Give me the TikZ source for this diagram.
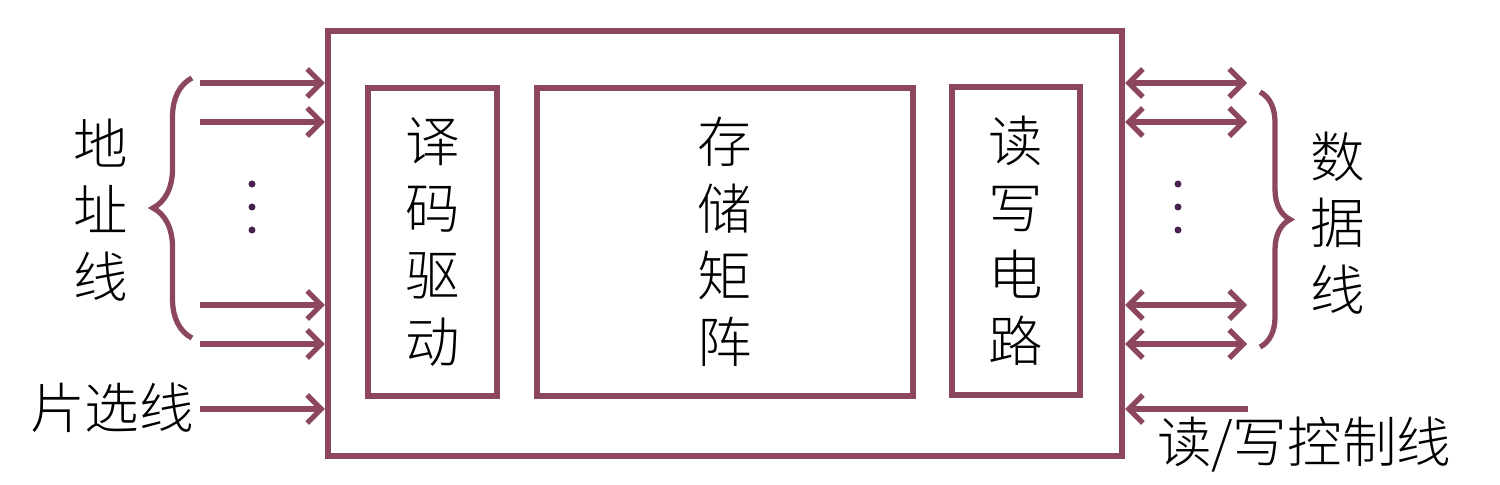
\documentclass[tikz,border=0pt]{standalone}
\usepackage{fontspec}
\setmainfont{Noto Sans CJK SC Light}
\usetikzlibrary{arrows.meta,decorations.pathreplacing}
\definecolor{wire}{RGB}{140,70,96}
\definecolor{dotc}{RGB}{72,34,78}
\begin{document}
\begin{tikzpicture}[x=0.01cm, y=-0.01cm, line width=1.5pt,
				tip/.tip={Straight Barb[length=4pt,width=8pt]},
				sig/.style={draw=wire, -tip},
				bus/.style={draw=wire, tip-tip},
				blk/.style={draw=wire, line width=1.6pt, inner sep=0pt, align=center},
				lbl/.style={font=\fontsize{15.5}{19}\selectfont, align=center, inner sep=0pt},
				dot/.style={circle, fill=dotc, inner sep=0pt, minimum size=0.07cm},
				brc/.style={draw=wire, decorate, decoration={brace, amplitude=#1}}]
				
				\useasboundingbox (0,0) rectangle (1500,485);
				
				% --- 1. 芯片外框与内部模块 ---
				\node[blk, minimum width=7.94cm, minimum height=4.25cm] (chip) at (725,243.5) {};
				\node[blk, lbl, minimum width=1.29cm, minimum height=3.08cm] (dec) at (432.5,242) {译\\码\\驱\\动};
				\node[blk, lbl, minimum width=3.76cm, minimum height=3.08cm] (mat) at (725,242) {存\\储\\矩\\阵};
				\node[blk, lbl, minimum width=1.28cm, minimum height=3.08cm] (rw) at (1016,241) {读\\写\\电\\路};
				
				% --- 2. 外部引线的端点 ---
				\coordinate (A1) at (200,83);
				\coordinate (A2) at (200,122);
				\coordinate (A3) at (200,305);
				\coordinate (A4) at (200,344);
				\coordinate (CS) at (200,409);
				\coordinate (D1) at (1247,83);
				\coordinate (D2) at (1247,122);
				\coordinate (D3) at (1247,305);
				\coordinate (D4) at (1247,344);
				\coordinate (WE) at (1248,409);
				
				% --- 3. 地址线、片选线 (输入) ---
				\draw[sig] (A1) -- (A1 -| chip.west);
				\draw[sig] (A2) -- (A2 -| chip.west);
				\draw[sig] (A3) -- (A3 -| chip.west);
				\draw[sig] (A4) -- (A4 -| chip.west);
				\draw[sig] (CS) -- (CS -| chip.west);
				\node[dot] (al1) at (252,184) {};
				\node[dot] (al2) at (252,207) {};
				\node[dot] (al3) at (252,230) {};
				\draw[brc=0.39cm] (192,338) -- (192,78);
				\node[lbl] (addr) at (101,210) {地\\址\\线};
				\node[lbl] (csl) at (112,408) {片选线};
				
				% --- 4. 数据线 (双向)、读/写控制线 ---
				\draw[bus] (D1 -| chip.east) -- (D1);
				\draw[bus] (D2 -| chip.east) -- (D2);
				\draw[bus] (D3 -| chip.east) -- (D3);
				\draw[bus] (D4 -| chip.east) -- (D4);
				\draw[sig] (WE) -- (WE -| chip.east);
				\node[dot] (dl1) at (1178,184) {};
				\node[dot] (dl2) at (1178,207) {};
				\node[dot] (dl3) at (1178,230) {};
				\draw[brc=0.30cm] (1260,92) -- (1260,347);
				\node[lbl] (data) at (1338,223) {数\\据\\线};
				\node[lbl] (wel) at (1304,445) {读/写控制线};
				
			\end{tikzpicture}
\end{document}
